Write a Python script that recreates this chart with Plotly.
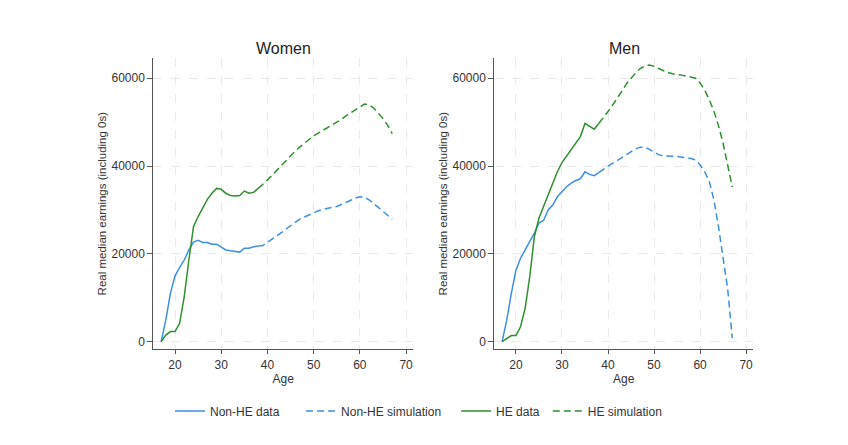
import plotly.graph_objects as go

ages_data = list(range(17, 39))
ages_sim = list(range(38, 68))

women_nonhe_data = [0, 4900, 11000, 15000, 16900, 18600, 20900, 22700, 23100, 22600, 22600,
                    22200, 22200, 21600, 20900, 20700, 20600, 20400, 21300, 21300, 21600, 21800]
women_nonhe_sim = [21800, 21900, 22600, 23300, 24000, 24800, 25600, 26400, 27200, 27900, 28400,
                   28900, 29400, 29800, 30100, 30400, 30600, 30800, 31200, 31700, 32200, 32700,
                   33000, 32900, 32300, 31500, 30600, 29700, 28800, 27900]
women_he_data = [0, 1500, 2300, 2300, 4200, 10300, 18600, 26200, 28500, 30400, 32400,
                 33800, 34900, 34700, 33800, 33300, 33200, 33300, 34300, 33800, 34000, 34900]
women_he_sim = [34900, 35800, 36800, 37900, 39000, 40200, 41300, 42400, 43400, 44300, 45200,
                46100, 46900, 47500, 48100, 48700, 49300, 49900, 50600, 51400, 52100, 52800,
                53500, 54100, 53900, 53200, 52000, 50800, 49300, 47400]

men_nonhe_data = [0, 4900, 11000, 16300, 19000, 20900, 22800, 24700, 27000, 27600, 30000,
                  31100, 33000, 34200, 35300, 36100, 36700, 37100, 38700, 38100, 37800, 38500]
men_nonhe_sim = [38500, 39300, 40000, 40600, 41200, 41900, 42600, 43300, 43900, 44300, 44300,
                 43800, 43100, 42600, 42300, 42200, 42200, 42200, 42100, 41900, 41700, 41400,
                 40300, 38700, 36500, 32300, 26200, 19400, 12000, 800]
men_he_data = [0, 800, 1400, 1400, 3400, 7600, 14800, 23900, 28100, 30800, 33400,
               36100, 38700, 40800, 42300, 43700, 45200, 46700, 49700, 49000, 48400, 49700]
men_he_sim = [49700, 51000, 52400, 53900, 55400, 57000, 58700, 60000, 61200, 62200, 62800,
              63000, 62700, 62200, 61700, 61300, 61000, 60900, 60700, 60500, 60300, 60000,
              58900, 57300, 55100, 52500, 49200, 45200, 40200, 35200]

legend_names = ["Non-HE data", "Non-HE simulation", "HE data", "HE simulation"]
legend_pad = [5, 3, 1, 0]

BLUE = "#3d8fe3"
GREEN = "#2e8f2e"
DASH = "7px,4px"
FONT = "Liberation Sans, Arial, sans-serif"

names = [n + "\u00a0" * p for n, p in zip(legend_names, legend_pad)]

fig = go.Figure()

panels = [
    ("x", "y", women_nonhe_data, women_nonhe_sim, women_he_data, women_he_sim, True),
    ("x2", "y2", men_nonhe_data, men_nonhe_sim, men_he_data, men_he_sim, False),
]
for xa, ya, nd, ns, hd, hs, show in panels:
    fig.add_trace(go.Scatter(x=ages_data, y=nd, mode="lines", name=names[0],
                             line=dict(color=BLUE, width=1.5), xaxis=xa, yaxis=ya, showlegend=show))
    fig.add_trace(go.Scatter(x=ages_sim, y=ns, mode="lines", name=names[1],
                             line=dict(color=BLUE, width=1.5, dash=DASH), xaxis=xa, yaxis=ya, showlegend=show))
    fig.add_trace(go.Scatter(x=ages_data, y=hd, mode="lines", name=names[2],
                             line=dict(color=GREEN, width=1.5), xaxis=xa, yaxis=ya, showlegend=show))
    fig.add_trace(go.Scatter(x=ages_sim, y=hs, mode="lines", name=names[3],
                             line=dict(color=GREEN, width=1.5, dash=DASH), xaxis=xa, yaxis=ya, showlegend=show))

W, H = 848, 445
def xd(a, b):
    return [a / W, b / W]
def yd(top, bottom):
    return [1 - bottom / H, 1 - top / H]

axis_common = dict(
    showline=True, linecolor="#555555", linewidth=1, ticks="outside",
    tickcolor="#555555", showgrid=True, gridcolor="#e9e9e9", griddash="dash", gridwidth=1,
    zeroline=False, tickfont=dict(size=12, color="#333333", family=FONT),
)
xaxis_common = dict(axis_common, range=[15.3, 71.5], tickvals=[20, 30, 40, 50, 60, 70], ticklen=4,
                    title=dict(text="Age", font=dict(size=12, color="#333333", family=FONT), standoff=2))
yaxis_common = dict(axis_common, range=[-1730, 64600], tickvals=[0, 20000, 40000, 60000],
                    tickformat="d", ticklen=5,
                    title=dict(text="Real median earnings (including 0s)",
                               font=dict(size=11.5, color="#333333", family=FONT), standoff=2))

fig.update_layout(
    width=W, height=H,
    margin=dict(l=0, r=0, t=0, b=0),
    paper_bgcolor="white", plot_bgcolor="white",
    font=dict(family=FONT, color="#333333"),
    xaxis=dict(xaxis_common, domain=xd(153.3, 413), anchor="y"),
    yaxis=dict(yaxis_common, domain=yd(58, 349.3), anchor="x"),
    xaxis2=dict(xaxis_common, domain=xd(494.3, 753), anchor="y2"),
    yaxis2=dict(yaxis_common, domain=yd(58, 349.3), anchor="x2"),
    legend=dict(orientation="h", x=170 / W, y=1 - 411 / H, xanchor="left", yanchor="middle",
                font=dict(size=12, color="#333333", family=FONT), itemwidth=30,
                bgcolor="rgba(0,0,0,0)"),
    annotations=[
        dict(text="Women", x=283 / W, y=1 - 49 / H, xref="paper", yref="paper",
             xanchor="center", yanchor="middle",
             showarrow=False, font=dict(size=16, color="#222222", family=FONT)),
        dict(text="Men", x=624 / W, y=1 - 49 / H, xref="paper", yref="paper",
             xanchor="center", yanchor="middle",
             showarrow=False, font=dict(size=16, color="#222222", family=FONT)),
    ],
)

fig.write_html("out.html")
